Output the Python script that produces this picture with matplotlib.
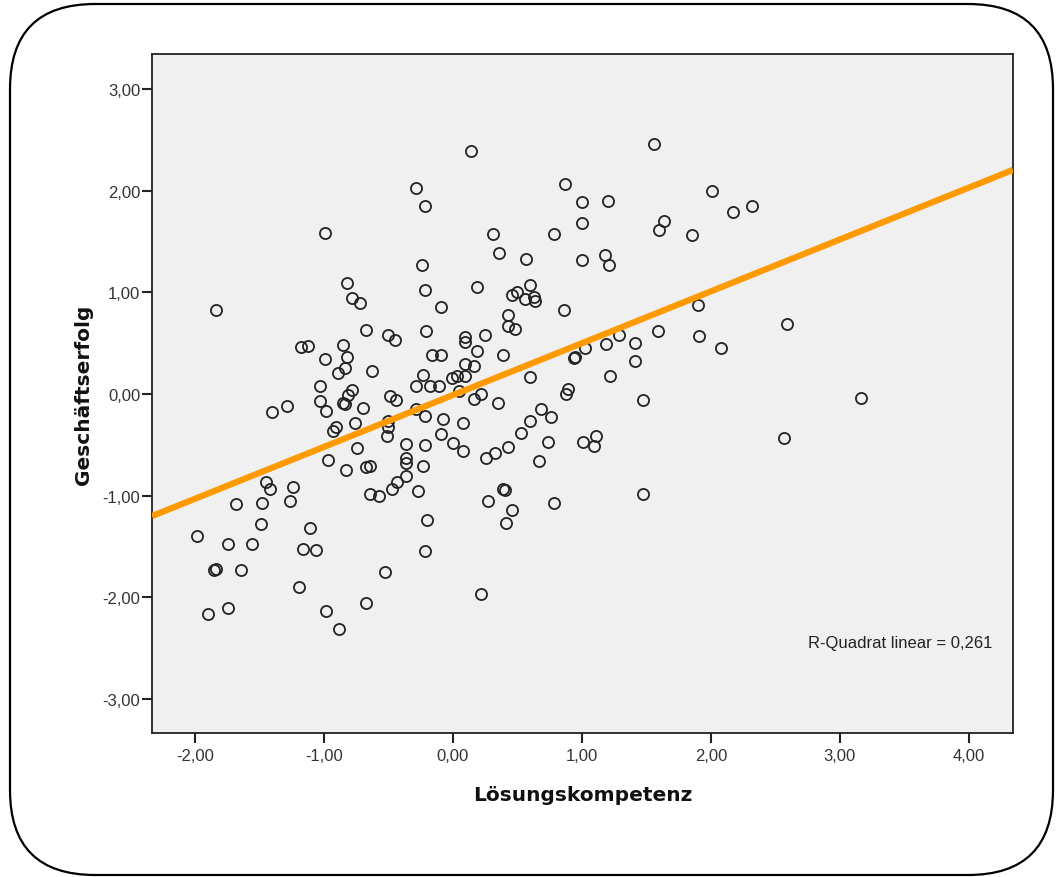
import numpy as np
import matplotlib
matplotlib.use('Agg')
import matplotlib.pyplot as plt
from matplotlib.patches import FancyBboxPatch

# data
loesung = [0.14, -0.29, -0.22, -0.99, -0.24, -0.22, -0.82, -0.78, -0.72, -0.09,
           -1.84, -0.67, -0.21, -0.50, -0.45, 0.09, 0.09, -1.18, -1.12, -0.85,
           -0.82, -0.99, -0.16, -0.09, 0.09, -0.84, -0.89, -0.63, -0.23, -0.01,
           0.03, 0.09, -1.03, -0.29, -0.18, -0.11, 0.05, -0.78, -0.81, -0.49,
           -0.44, -1.03, -0.85, -0.84, -1.29, -1.40, -0.98, -0.70, -0.29, -0.22,
           -0.08, 0.08, -0.76, -0.50, -0.91, -0.50, -0.51, -0.93, -0.74, -0.97,
           -0.83, -0.67, -0.64, -0.36, -0.22, -0.09, 0.00, 0.08, -0.36, -0.36,
           -0.23, -0.36, -0.43, -0.47, -0.27, -0.64, -0.57, -1.45, -1.42, -1.24,
           -1.26, -1.68, -1.48, -1.49, -1.98, -1.74, -1.56, -1.11, -1.16, -1.06,
           -0.20, -0.22, -1.85, -1.84, -1.64, -0.53, -1.19, -1.90, -1.74, -0.98,
           -0.67, -0.88, 1.56, 0.87, 1.00, 1.20, 2.01, 2.17, 2.32, 1.00,
           1.64, 1.60, 1.85, 0.31, 0.78, 0.36, 0.57, 1.00, 1.18, 1.21,
           0.19, 0.60, 0.46, 0.50, 0.56, 0.63, 0.64, 0.86, 0.43, 0.43,
           0.48, 1.90, 0.25, 0.19, 0.39, 0.16, 0.60, 0.94, 0.95, 1.02,
           1.19, 1.29, 1.41, 1.59, 1.41, 1.22, 1.91, 2.08, 0.89, 0.88,
           0.22, 0.16, 0.35, 0.68, 0.76, 0.60, 1.47, 0.53, 0.43, 0.74,
           0.26, 0.33, 0.67, 1.01, 1.11, 1.09, 0.39, 0.40, 0.27, 0.46,
           0.41, 0.78, 1.47, 0.22, 2.59, 3.16, 2.57]
erfolg = [2.39, 2.03, 1.85, 1.58, 1.27, 1.02, 1.09, 0.94, 0.90, 0.86,
          0.83, 0.63, 0.62, 0.58, 0.53, 0.56, 0.51, 0.46, 0.47, 0.48,
          0.36, 0.34, 0.38, 0.38, 0.30, 0.26, 0.21, 0.23, 0.19, 0.16,
          0.18, 0.18, 0.08, 0.08, 0.08, 0.08, 0.03, 0.04, -0.01, -0.02,
          -0.06, -0.07, -0.09, -0.10, -0.12, -0.18, -0.17, -0.14, -0.15, -0.22,
          -0.25, -0.28, -0.28, -0.27, -0.32, -0.32, -0.41, -0.36, -0.53, -0.65,
          -0.75, -0.72, -0.71, -0.49, -0.50, -0.39, -0.48, -0.56, -0.63, -0.68,
          -0.71, -0.81, -0.86, -0.93, -0.95, -0.98, -1.00, -0.86, -0.93, -0.91,
          -1.05, -1.08, -1.07, -1.28, -1.40, -1.47, -1.47, -1.32, -1.52, -1.53,
          -1.24, -1.54, -1.73, -1.72, -1.73, -1.75, -1.90, -2.16, -2.10, -2.13,
          -2.05, -2.31, 2.46, 2.07, 1.89, 1.90, 2.00, 1.79, 1.85, 1.68,
          1.70, 1.61, 1.56, 1.57, 1.57, 1.39, 1.33, 1.32, 1.37, 1.27,
          1.05, 1.07, 0.97, 1.00, 0.93, 0.95, 0.91, 0.83, 0.78, 0.67,
          0.64, 0.88, 0.58, 0.42, 0.38, 0.28, 0.17, 0.35, 0.36, 0.45,
          0.49, 0.58, 0.50, 0.62, 0.32, 0.18, 0.57, 0.45, 0.05, 0.00,
          0.00, -0.05, -0.09, -0.15, -0.23, -0.27, -0.06, -0.38, -0.52, -0.47,
          -0.63, -0.58, -0.66, -0.47, -0.41, -0.51, -0.93, -0.94, -1.05, -1.14,
          -1.27, -1.07, -0.98, -1.97, 0.69, -0.04, -0.43]

# linear fit as shown in the chart
fit_intercept = -0.01
fit_slope = 0.51
r2_text = 'R-Quadrat linear = 0,261'

x_ticks = [-2, -1, 0, 1, 2, 3, 4]
x_ticklabels = ['-2,00', '-1,00', '0,00', '1,00', '2,00', '3,00', '4,00']
y_ticks = [-3, -2, -1, 0, 1, 2, 3]
y_ticklabels = ['-3,00', '-2,00', '-1,00', '0,00', '1,00', '2,00', '3,00']


def plot_scatter():
    fig = plt.figure(figsize=(10.56, 8.78), dpi=100)
    fig.patch.set_facecolor('white')
    ax = fig.add_axes([0.1439, 0.164, 0.8153, 0.7733])
    ax.set_facecolor('#f0f0f0')

    # points
    ax.plot(loesung, erfolg, 'o', ms=8, mfc='none', mec='#222222', mew=1.3,
            zorder=3)

    # regression line over full x range
    xlim = (-2.333, 4.341)
    xs = np.array(xlim)
    ax.plot(xs, fit_intercept + fit_slope * xs, color='#ff9a00', lw=4.5,
            solid_capstyle='butt', zorder=4)
    ax.set_xlim(xlim)
    ax.set_ylim(-3.333, 3.343)

    ax.set_xticks(x_ticks)
    ax.set_xticklabels(x_ticklabels)
    ax.set_yticks(y_ticks)
    ax.set_yticklabels(y_ticklabels)
    for lab in ax.get_xticklabels() + ax.get_yticklabels():
        lab.set_family('Liberation Sans')
        lab.set_fontsize(12)
        lab.set_color('#333333')
    ax.tick_params(axis='both', direction='out', length=7, width=1.5,
                   color='#222222')
    ax.tick_params(axis='x', pad=4)
    ax.tick_params(axis='y', pad=1.5)
    for sp in ax.spines.values():
        sp.set_color('#222222')
        sp.set_linewidth(1.3)

    # axes labels
    ax.set_xlabel('Lösungskompetenz', fontsize=14.5, fontweight='bold',
                  family='DejaVu Sans', color='#111111', va='center')
    ax.xaxis.set_label_coords(0.5, -0.09)
    ax.set_ylabel('Geschäftserfolg', fontsize=14.5, fontweight='bold',
                  family='DejaVu Sans', color='#111111', va='center')
    ax.yaxis.set_label_coords(-0.080, 0.5)

    ax.text(0.9756, 0.134, r2_text, transform=ax.transAxes, ha='right',
            va='center', fontsize=12, family='Liberation Sans', color='#222222')

    # rounded frame round the whole picture
    frame = FancyBboxPatch((0.10, 0.02), 10.43, 8.71,
                           boxstyle='round,pad=0,rounding_size=0.85',
                           transform=fig.dpi_scale_trans, fill=False,
                           lw=1.6, ec='black', clip_on=False)
    fig.patches.append(frame)

    fig.savefig('out.png', dpi=100)


if __name__ == '__main__':
    plot_scatter()
